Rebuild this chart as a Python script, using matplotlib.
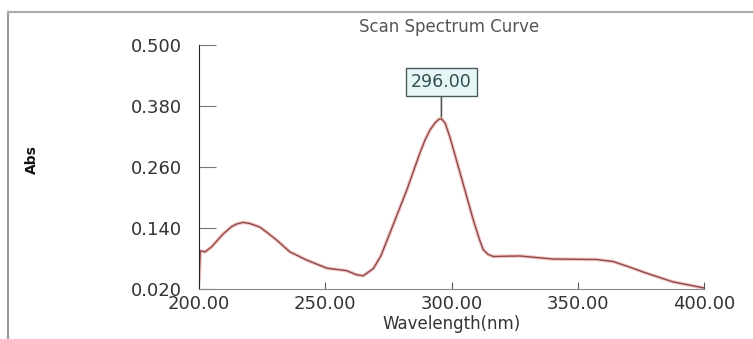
import matplotlib.pyplot as plt
from matplotlib.lines import Line2D

# spectrum
wavelength = [200, 200.5, 202.4, 205, 209.5, 213, 215, 217.4, 220, 224, 227,
              230.8, 236, 242.6, 250.6, 258.5, 262.4, 265, 269, 272, 275.6,
              282.3, 287.5, 289.5, 291.5, 293.5, 295, 296, 297.5, 299.4,
              303.4, 308.6, 311, 312.6, 314.5, 316.5, 327, 340, 357.5, 364,
              370, 377, 387.7, 400]
absorb = [0.035, 0.095, 0.093, 0.103, 0.128, 0.143, 0.148, 0.151, 0.149, 0.142,
          0.131, 0.116, 0.093, 0.077, 0.061, 0.056, 0.048, 0.046, 0.060, 0.085,
          0.130, 0.215, 0.288, 0.313, 0.333, 0.347, 0.354, 0.355, 0.346, 0.318,
          0.248, 0.156, 0.118, 0.097, 0.088, 0.084, 0.085, 0.079, 0.078, 0.074,
          0.064, 0.0515, 0.034, 0.022]
peak_wl = 296.0
peak_abs = 0.355

xticks = [200, 250, 300, 350, 400]
yticks = [0.020, 0.140, 0.260, 0.380, 0.500]

fig = plt.figure(figsize=(7.53, 3.39), dpi=100)
ax = fig.add_axes([0.2643, 0.1475, 0.935 - 0.2643, 0.8673 - 0.1475])

# pinkish halo plus darker core line
ax.plot(wavelength, absorb, color='#f0a0a0', lw=2.6, alpha=0.6,
        solid_capstyle='round', solid_joinstyle='round')
ax.plot(wavelength, absorb, color='#8a4a4a', lw=1.0, solid_joinstyle='round')

ax.set_xlim(200, 400)
ax.set_ylim(0.020, 0.500)
ax.set_xticks(xticks)
ax.set_xticklabels(['%.2f' % v for v in xticks])
ax.set_yticks(yticks)
ax.set_yticklabels(['%.3f' % v for v in yticks])

for s in ['top', 'right']:
    ax.spines[s].set_visible(False)
ax.spines['left'].set_color('#222222')
ax.spines['bottom'].set_color('#888888')
ax.tick_params(axis='y', direction='in', length=12, color='#777777', pad=12,
               labelsize=13, labelcolor='#333333')
ax.tick_params(axis='x', direction='in', length=5, color='#555555', pad=4,
               labelsize=13, labelcolor='#333333')
ax.set_xlabel('Wavelength(nm)', fontsize=12, color='#333333', labelpad=2)

ax.annotate('%.2f' % peak_wl, xy=(peak_wl, peak_abs + 0.004), xytext=(peak_wl, 0.427),
            ha='center', va='center', fontsize=12.5, color='#2f4f4f',
            bbox=dict(boxstyle='square,pad=0.3', fc='#e6f6f6', ec='#4a5a5a', lw=1),
            arrowprops=dict(arrowstyle='-', color='#555555', lw=1.2, shrinkA=0, shrinkB=0))

fig.text(0.596, 0.920, 'Scan Spectrum Curve', ha='center', va='center',
         fontsize=12, color='#555555')
fig.text(0.043, 0.528, 'Abs', rotation=90, ha='center', va='center',
         fontsize=10, fontweight='bold', color='#111111')

# outer frame of the screenshot
fig.add_artist(Line2D([8 / 753, 8 / 753], [0, 1 - 12 / 339], color='#999999', lw=1.5))
fig.add_artist(Line2D([8 / 753, 1], [1 - 12 / 339, 1 - 12 / 339], color='#aaaaaa', lw=1.5))
# cut-off caption letter above the frame
fig.text(182 / 753, 1.012, 'p', ha='center', va='baseline', fontsize=13,
         fontweight='bold', family='Liberation Serif', color='black')

fig.savefig('out.png', dpi=100)
